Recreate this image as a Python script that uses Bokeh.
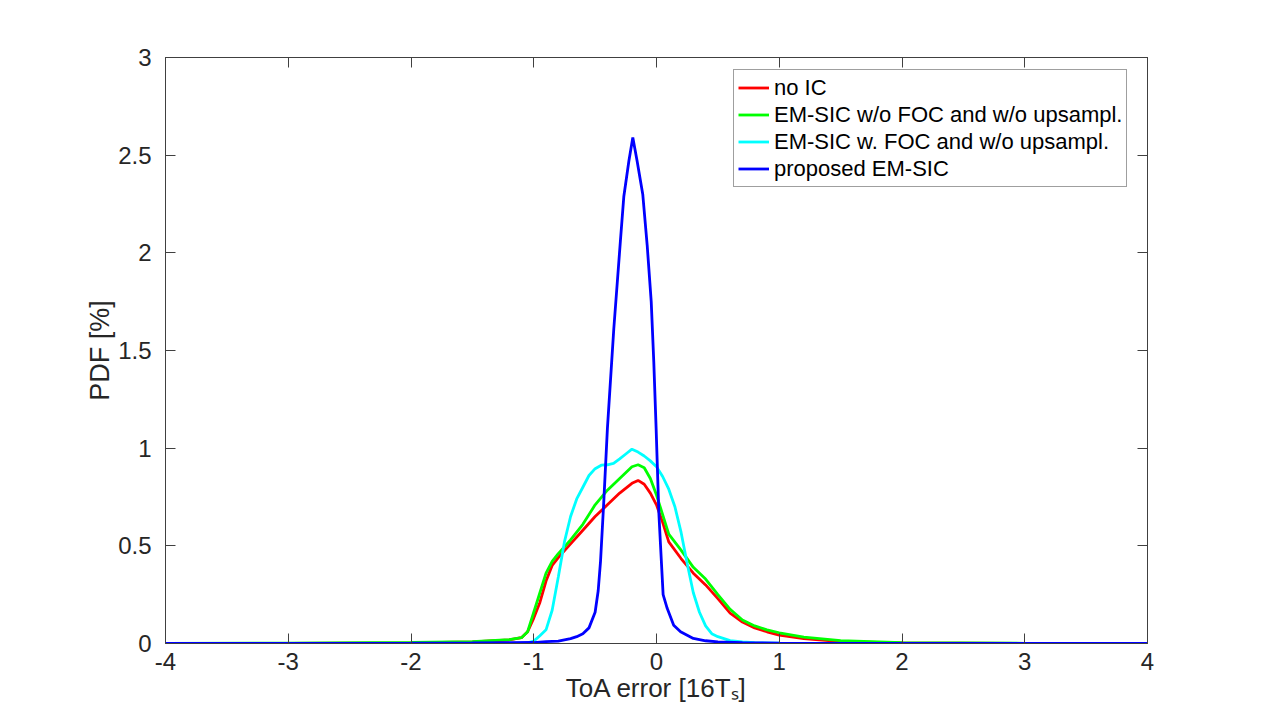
from bokeh.plotting import figure
from bokeh.models import Range1d, LinearAxis, FixedTicker
from bokeh.embed import file_html
from bokeh.resources import INLINE

# ---------------- data ----------------
x_common = [-4, -3, -2, -1.5, -1.2, -1.1, -1.05, -1.0, -0.95, -0.9, -0.85, -0.8, -0.7, -0.6, -0.5,
            -0.4, -0.3, -0.2, -0.15, -0.1, -0.05, 0.0, 0.05, 0.1, 0.2, 0.3, 0.4, 0.5, 0.6, 0.7,
            0.8, 0.9, 1.0, 1.2, 1.5, 2.0, 3.0, 4.0]
pdf_no_ic = [0.0, 0.001, 0.003, 0.008, 0.018, 0.03, 0.06, 0.13, 0.21, 0.32, 0.40, 0.44, 0.51, 0.58, 0.65,
             0.71, 0.77, 0.82, 0.835, 0.815, 0.77, 0.71, 0.62, 0.52, 0.435, 0.36, 0.30, 0.23, 0.155, 0.11,
             0.08, 0.06, 0.043, 0.025, 0.01, 0.003, 0.001, 0.0]
pdf_em_nofoc = [0.0, 0.002, 0.005, 0.01, 0.02, 0.03, 0.06, 0.16, 0.26, 0.36, 0.42, 0.46, 0.53, 0.61, 0.71,
                0.785, 0.845, 0.905, 0.915, 0.90, 0.845, 0.76, 0.66, 0.56, 0.478, 0.39, 0.33, 0.25, 0.175, 0.12,
                0.09, 0.07, 0.055, 0.033, 0.015, 0.004, 0.001, 0.0]

x_foc = [-4, -2, -1.5, -1.2, -1.1, -1.05, -1.0, -0.95, -0.9, -0.85, -0.8, -0.75, -0.7, -0.65, -0.6,
         -0.55, -0.5, -0.45, -0.4, -0.35, -0.3, -0.25, -0.2, -0.15, -0.1, -0.05, 0.0, 0.05, 0.1, 0.15,
         0.2, 0.25, 0.3, 0.35, 0.4, 0.45, 0.5, 0.6, 0.7, 0.8, 1.0, 1.5, 2.0, 4.0]
pdf_em_foc = [0.0, 0.0, 0.0, 0.001, 0.002, 0.003, 0.012, 0.04, 0.07, 0.17, 0.34, 0.52, 0.65, 0.74, 0.80,
              0.86, 0.895, 0.913, 0.915, 0.922, 0.945, 0.97, 0.995, 0.98, 0.96, 0.935, 0.905, 0.855, 0.79, 0.70,
              0.57, 0.41, 0.26, 0.16, 0.09, 0.05, 0.035, 0.015, 0.008, 0.004, 0.002, 0.0, 0.0, 0.0]

x_prop = [-4, -3, -2, -1.5, -1.0, -0.9, -0.8, -0.7, -0.65, -0.6, -0.55, -0.5, -0.475, -0.456, -0.43,
          -0.40, -0.348, -0.293, -0.266, -0.225, -0.193, -0.158, -0.112, -0.076, -0.043, -0.022, -0.003,
          0.019, 0.033, 0.054, 0.087, 0.14, 0.196, 0.3, 0.4, 0.5, 0.7, 1.0, 2.0, 3.0, 4.0]
pdf_prop = [0.0, 0.001, 0.002, 0.003, 0.005, 0.01, 0.012, 0.025, 0.035, 0.05, 0.08, 0.16, 0.27, 0.42, 0.72,
            1.10, 1.61, 2.07, 2.29, 2.47, 2.59, 2.47, 2.30, 2.04, 1.75, 1.44, 1.10,
            0.67, 0.50, 0.25, 0.18, 0.094, 0.06, 0.026, 0.014, 0.008, 0.004, 0.002, 0.001, 0.0, 0.0]

series_labels = ["no IC", "EM-SIC w/o FOC and w/o upsampl.",
                 "EM-SIC w. FOC and w/o upsampl.", "proposed EM-SIC"]
series_colors = ["#ff0000", "#00ff00", "#00ffff", "#0000ff"]
x_ticks = [-4, -3, -2, -1, 0, 1, 2, 3, 4]
x_tick_labels = ["-4", "-3", "-2", "-1", "0", "1", "2", "3", "4"]
y_ticks = [0, 0.5, 1, 1.5, 2, 2.5, 3]
y_tick_labels = ["0", "0.5", "1", "1.5", "2", "2.5", "3"]
x_title = "ToA error [16T\u209b]"
y_title = "PDF [%]"

FONT = "Liberation Sans"
TXT = "#262626"
AX = "#404040"

p = figure(width=1250, height=706, output_backend="svg", toolbar_location=None,
           x_range=Range1d(-4, 4), y_range=Range1d(0, 3),
           min_border_left=165, min_border_right=103, min_border_top=57, min_border_bottom=63)
p.background_fill_color = "white"
p.border_fill_color = "white"
p.grid.visible = False
p.outline_line_color = AX
p.outline_line_width = 1

xs_all = [x_common, x_common, x_foc, x_prop]
ys_all = [pdf_no_ic, pdf_em_nofoc, pdf_em_foc, pdf_prop]
for xs, ys, lab, col in zip(xs_all, ys_all, series_labels, series_colors):
    p.line(xs, ys, line_color=col, line_width=2.8, legend_label=lab)


def style_axis(ax):
    ax.axis_line_color = AX
    ax.major_tick_line_color = AX
    ax.major_tick_in = 10
    ax.major_tick_out = 0
    ax.minor_tick_line_color = None
    ax.major_label_text_font = FONT
    ax.major_label_text_color = TXT
    ax.major_label_text_font_size = "24px"


xa = p.xaxis[0]
ya = p.yaxis[0]
style_axis(xa)
style_axis(ya)
xa.ticker = FixedTicker(ticks=x_ticks)
ya.ticker = FixedTicker(ticks=y_ticks)
xa.major_label_overrides = {v: s for v, s in zip(x_ticks, x_tick_labels)}
ya.major_label_overrides = {v: s for v, s in zip(y_ticks, y_tick_labels)}
xa.major_label_standoff = 9
ya.major_label_standoff = 14

for ax, title, size in ((xa, x_title, "26px"), (ya, y_title, "27px")):
    ax.axis_label = title
    ax.axis_label_text_font = FONT
    ax.axis_label_text_font_size = size
    ax.axis_label_text_font_style = "normal"
    ax.axis_label_text_color = TXT
xa.axis_label_standoff = 0
ya.axis_label_standoff = 0

# mirrored tick marks on top and right (box on)
top = LinearAxis(ticker=FixedTicker(ticks=x_ticks))
right = LinearAxis(ticker=FixedTicker(ticks=y_ticks))
for ax, ticks in ((top, x_ticks), (right, y_ticks)):
    style_axis(ax)
    ax.major_label_overrides = {v: "" for v in ticks}
    ax.major_label_standoff = 0
p.add_layout(top, "above")
p.add_layout(right, "right")

lg = p.legend[0]
lg.location = (568, 456)
lg.margin = 0
lg.padding = 4
lg.spacing = 0
lg.glyph_width = 31
lg.glyph_height = 27
lg.label_height = 27
lg.label_standoff = 5
lg.label_text_font = FONT
lg.label_text_font_size = "22px"
lg.label_text_color = "black"
lg.border_line_color = AX
lg.border_line_width = 1
lg.background_fill_color = "white"
lg.background_fill_alpha = 1.0

open("out.html", "w").write(file_html(p, INLINE))
